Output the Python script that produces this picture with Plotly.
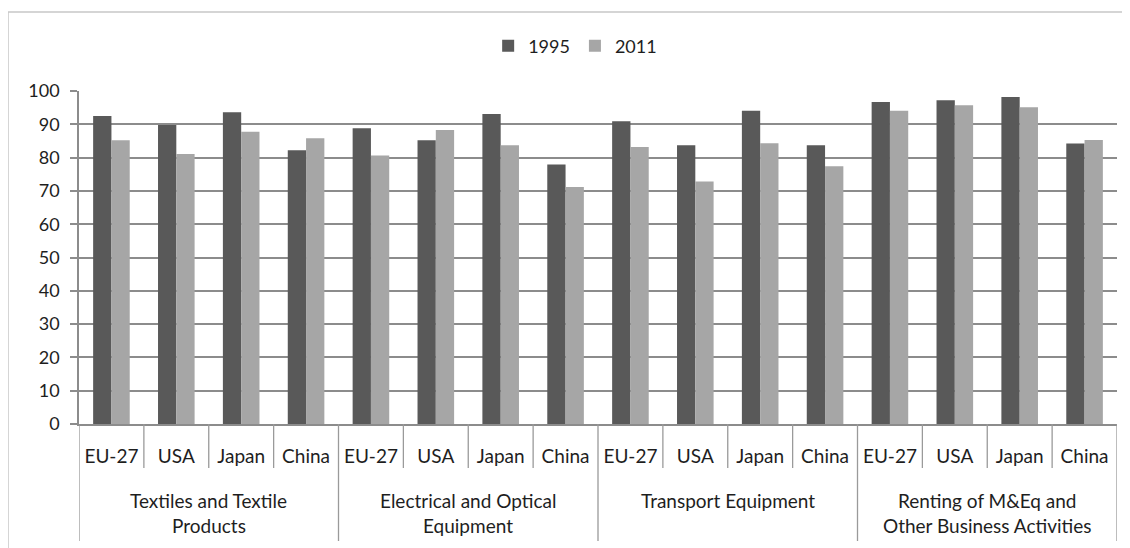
import plotly.graph_objects as go

# ---- data ----
sectors = ["Textiles and Textile<br>Products",
           "Electrical and Optical<br>Equipment",
           "Transport Equipment",
           "Renting of M&Eq and<br>Other Business Activities"]
countries = ["EU-27", "USA", "Japan", "China"]
values_1995 = [92.5, 89.8, 93.6, 82.2,
               88.8, 85.2, 93.1, 77.9,
               90.9, 83.7, 94.1, 83.7,
               96.7, 97.2, 98.2, 84.2]
values_2011 = [85.2, 81.1, 87.8, 85.8,
               80.6, 88.3, 83.7, 71.2,
               83.2, 72.8, 84.3, 77.4,
               94.1, 95.7, 95.1, 85.3]
y_ticks = list(range(0, 101, 10))

# page body adds an 8px offset; figure sized to compensate
OFF = 8
W, H = 1122, 540
L, R, T, B = 71, 13, 83, 124
plot_w = W - L - R
plot_h = H - T - B
FONT = "Lato"
TXT = "#1e1e1e"
GRID = "#8c8c8c"

n = len(sectors) * len(countries)
xs = list(range(n))
country_labels = [c for _ in sectors for c in countries]

fig = go.Figure()
fig.add_trace(go.Bar(x=xs, y=values_1995, name="1995", marker_color="#595959",
                     marker_line_width=0))
fig.add_trace(go.Bar(x=xs, y=values_2011, name="2011", marker_color="#a6a6a6",
                     marker_line_width=0))

def py(px):
    # pixel offset below the x-axis -> paper y
    return -px / plot_h

shapes = []
# outer chart frame (left edge at page x=8, top at page y=12)
shapes.append(dict(type="rect", xref="paper", yref="paper",
                   x0=(8 - OFF - L) / plot_w, x1=(W + 30 - L) / plot_w,
                   y0=py(200), y1=1 + (T - (12 - OFF)) / plot_h,
                   line=dict(color="#c8c8c8", width=1.5), layer="below"))
# category dividers
for i in range(n + 1):
    group_edge = (i % len(countries) == 0)
    shapes.append(dict(type="line", xref="x", yref="paper",
                       x0=i - 0.5, x1=i - 0.5, y0=0,
                       y1=py(117) if group_edge else py(44),
                       line=dict(color="#9a9a9a", width=1.3)))

annotations = []
for g, s in enumerate(sectors):
    center = g * len(countries) + (len(countries) - 1) / 2
    for k, line in enumerate(s.split("<br>")):
        annotations.append(dict(x=center, y=py(76 + 25 * k), xref="x", yref="paper",
                                text=line, showarrow=False, yanchor="middle",
                                font=dict(family=FONT, size=19, color=TXT)))

fig.update_layout(
    width=W, height=H,
    margin=dict(l=L, r=R, t=T, b=B, pad=0),
    paper_bgcolor="white", plot_bgcolor="white",
    barmode="group", bargap=0.436, bargroupgap=0,
    font=dict(family=FONT, size=18, color=TXT),
    showlegend=True,
    legend=dict(orientation="h", x=0.478, xanchor="center",
                y=1 + (T - (46 - OFF)) / plot_h,
                yanchor="middle", font=dict(family=FONT, size=18, color=TXT),
                itemwidth=30, tracegroupgap=0, bgcolor="rgba(0,0,0,0)"),
    shapes=shapes, annotations=annotations,
    xaxis=dict(range=[-0.5, n - 0.5], tickmode="array", tickvals=xs,
               ticktext=country_labels, ticks="", showgrid=False,
               showline=True, linecolor="#8c8c8c", linewidth=1.5,
               ticklabelstandoff=14, tickfont=dict(family=FONT, size=19, color=TXT),
               zeroline=False, fixedrange=True),
    yaxis=dict(range=[0, 100], tickmode="array", tickvals=y_ticks,
               showgrid=True, gridcolor=GRID, gridwidth=1.5,
               showline=True, linecolor="#8c8c8c", linewidth=1.5,
               ticks="outside", ticklen=7, tickcolor="#8c8c8c", tickwidth=1.5,
               ticklabelstandoff=7, tickfont=dict(family=FONT, size=18, color=TXT),
               zeroline=False, fixedrange=True),
)

fig.write_html("out.html")
